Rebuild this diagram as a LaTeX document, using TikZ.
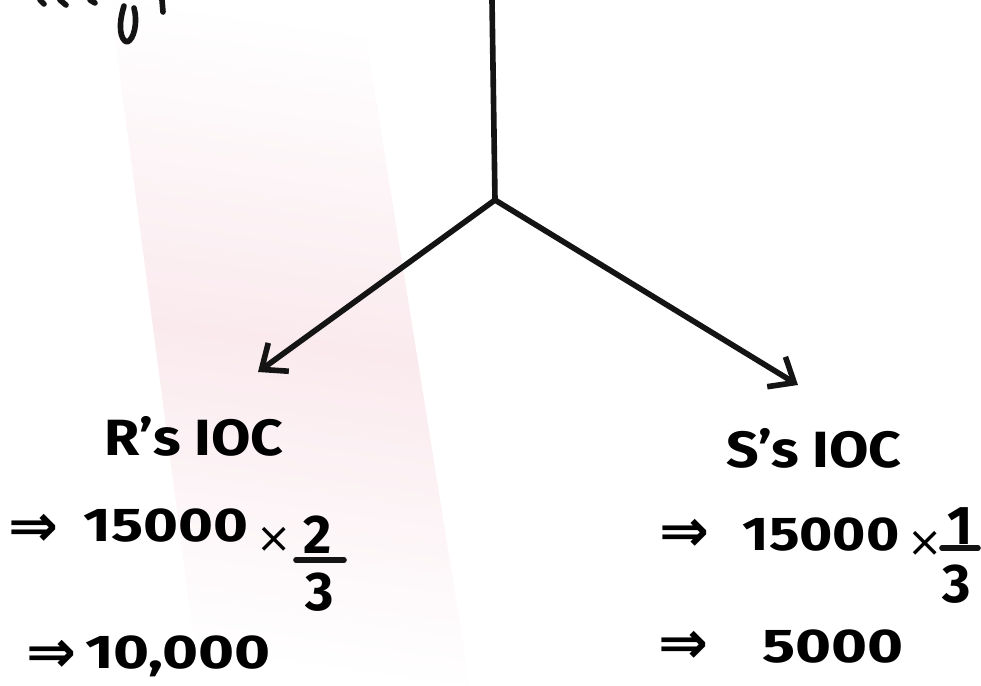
\documentclass[tikz,border=0pt]{standalone}
\usepackage{fontspec}
\setmainfont{Fira Sans}
\newfontfamily\symfont{DejaVu Sans}
\usetikzlibrary{arrows.meta}
\definecolor{pinkc}{RGB}{250,234,238}
\begin{document}
\begin{tikzpicture}[x=0.02cm,y=-0.02cm,
  ink/.style={line width=3.2pt, line cap=round, line join=round, draw=black!92},
  arr/.style={ink, -{Straight Barb[length=4.2mm,width=7mm,line width=3.2pt]}},
  head/.style={inner sep=0pt, font=\fontsize{29}{31}\selectfont\bfseries},
  num/.style={inner sep=0pt, font=\fontsize{27}{29}\selectfont\bfseries},
  times/.style={inner sep=0pt, font=\symfont\fontsize{24}{26}\selectfont},
  imp/.style={inner sep=0pt, font=\symfont\bfseries\fontsize{34}{36}\selectfont}]
\useasboundingbox (0,0) rectangle (981,686);
% pink paper tint
\shade[left color=white, right color=white, middle color=pinkc, shading angle=-8]
  (110,0) -- (360,0) -- (470,686) -- (200,686) -- cycle;
% cut-off writing at top left
\draw[ink] (40,0) -- (44,4) (60,0) -- (66,5) (90,0) -- (95,3);
\draw[ink] (124,6) .. controls (118,25) and (120,40) .. (127,42) .. controls (134,40) and (138,22) .. (134,8);
\draw[ink] (162,0) -- (163,12);
% tree
\coordinate (top) at (492,0);
\coordinate (fork) at (495,200);
\coordinate (lt) at (258,372);
\coordinate (rt) at (798,385);
\draw[ink] (top) -- (fork);
\draw[arr] (fork) -- (lt);
\draw[arr] (fork) -- (rt);
% left branch
\node[head] (rioc) at (194,436) {\scalebox{1.12}[1]{R’s IOC}};
\node[imp] (ra1) at (34,530) {⇒};
\node[num] (rn1) at (166,526) {\scalebox{1.26}[1]{15000}};
\node[times] (rx) at (274,540) {×};
\node[num] (r2) at (318,535) {\scalebox{1.15}{2}};
\coordinate (rbl) at (296,560);
\coordinate (rbr) at (344,560);
\draw[ink] (rbl) -- (rbr);
\node[num] (r3) at (320,592) {\scalebox{1.15}{3}};
\node[imp] (ra2) at (52,656) {⇒};
\node[num] (rn2) at (178,656) {\scalebox{1.3}[1]{10,000}};
% right branch
\node[head] (sioc) at (814,448) {\scalebox{1.12}[1]{S’s IOC}};
\node[imp] (sa1) at (685,535) {⇒};
\node[num] (sn1) at (821,535) {\scalebox{1.2}[1]{15000}};
\node[times] (sx) at (925,544) {×};
\node[num] (s1) at (960,526) {\scalebox{1.15}{1}};
\coordinate (sbl) at (942,548);
\coordinate (sbr) at (978,548);
\draw[ink] (sbl) -- (sbr);
\node[num] (s3) at (957,584) {\scalebox{1.15}{3}};
\node[imp] (sa2) at (684,647) {⇒};
\node[num] (sn2) at (833,647) {\scalebox{1.3}[1]{5000}};
\end{tikzpicture}
\end{document}
